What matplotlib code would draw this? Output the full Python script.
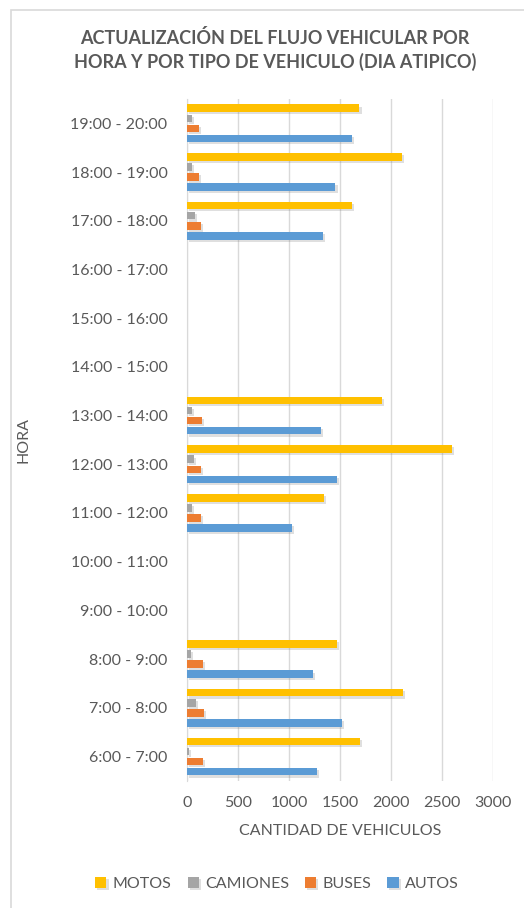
import matplotlib.pyplot as plt
import matplotlib.patheffects as pe
import numpy as np
from matplotlib.patches import Rectangle

plt.rcParams['font.family'] = ['Lato', 'DejaVu Sans']

horas = ["6:00 - 7:00", "7:00 - 8:00", "8:00 - 9:00", "9:00 - 10:00",
         "10:00 - 11:00", "11:00 - 12:00", "12:00 - 13:00", "13:00 - 14:00",
         "14:00 - 15:00", "15:00 - 16:00", "16:00 - 17:00", "17:00 - 18:00",
         "18:00 - 19:00", "19:00 - 20:00"]

autos = [1270, 1515, 1230, 0, 0, 1025, 1465, 1310, 0, 0, 0, 1335, 1455, 1615]
buses = [160, 170, 160, 0, 0, 135, 135, 145, 0, 0, 0, 135, 115, 115]
camiones = [20, 85, 35, 0, 0, 45, 65, 45, 0, 0, 0, 80, 50, 45]
motos = [1695, 2120, 1465, 0, 0, 1345, 2600, 1915, 0, 0, 0, 1615, 2110, 1690]

series = [("AUTOS", autos, "#5B9BD5"),
          ("BUSES", buses, "#ED7D31"),
          ("CAMIONES", camiones, "#A5A5A5"),
          ("MOTOS", motos, "#FFC000")]

fig = plt.figure(figsize=(5.24, 9.08), dpi=100)
ax = fig.add_axes([0.357, 0.140, 0.584, 0.751])

# chart area border (only top/left visible in the crop)
fig.patches.append(Rectangle((11 / 524, -0.1), 1.2, 1 - 10 / 908 + 0.1,
                             transform=fig.transFigure, fill=False,
                             edgecolor="#D9D9D9", lw=1.2))

y = np.arange(len(horas))
slot = 0.207
h = 0.155
shadow = [pe.SimplePatchShadow(offset=(1.5, -1.5), alpha=0.25, shadow_rgbFace="gray"),
          pe.Normal()]
handles = {}
for i, (name, vals, color) in enumerate(series):
    b = ax.barh(y + (i - 1.5) * slot, vals, height=h, color=color, label=name,
                zorder=3)
    for p in b:
        p.set_path_effects(shadow)
    handles[name] = b

ax.set_xlim(0, 3000)
ax.set_ylim(-0.5, len(horas) - 0.5)
ax.set_xticks(range(0, 3001, 500))
ax.set_yticks(y)
ax.set_yticklabels(horas)
ax.grid(axis="x", color="#D9D9D9", lw=1, zorder=0)
for s in ["top", "right", "bottom"]:
    ax.spines[s].set_visible(False)
ax.spines["left"].set_color("#D9D9D9")
ax.tick_params(length=0, colors="#595959", labelsize=11.5)
ax.tick_params(axis="y", pad=14)
ax.tick_params(axis="x", pad=11)

ax.set_xlabel("CANTIDAD DE VEHICULOS", color="#595959", fontsize=11.5, labelpad=10)
ax.set_ylabel("HORA", color="#595959", fontsize=11.5)
ax.yaxis.set_label_coords(-0.51, 0.5)

fig.text(275 / 524, 1 - 50 / 908,
         "ACTUALIZACIÓN DEL FLUJO VEHICULAR POR\nHORA Y POR TIPO DE VEHICULO (DIA ATIPICO)",
         ha="center", va="center", fontsize=13, fontweight="bold",
         color="#595959", linespacing=1.45)

order = ["MOTOS", "CAMIONES", "BUSES", "AUTOS"]
leg = fig.legend([handles[n] for n in order], order, loc="center",
                 bbox_to_anchor=(277 / 524, 1 - 884 / 908), ncol=4, frameon=False,
                 fontsize=11.5, handlelength=0.7, handleheight=0.7,
                 handletextpad=0.4, columnspacing=1.0)
for t in leg.get_texts():
    t.set_color("#595959")

fig.savefig("out.png", dpi=100)
